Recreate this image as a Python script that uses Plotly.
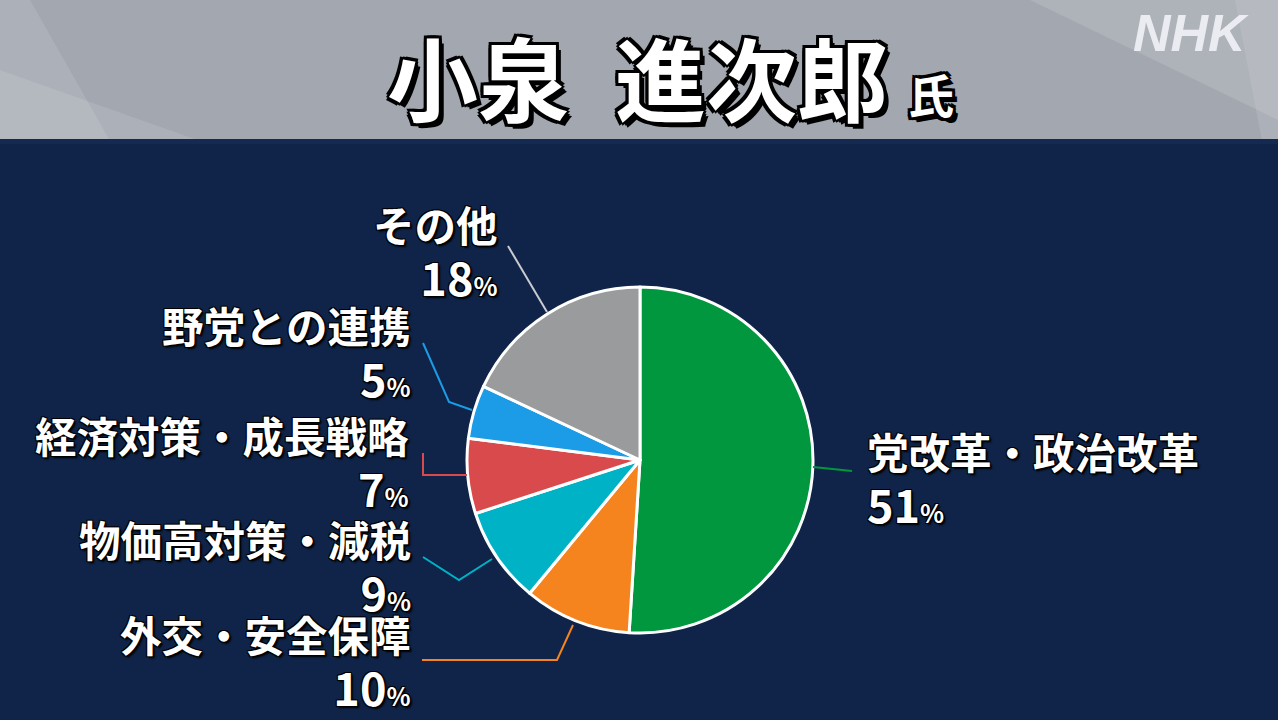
import plotly.graph_objects as go

W, H = 1278, 720

categories = ["党改革・政治改革", "外交・安全保障", "物価高対策・減税",
              "経済対策・成長戦略", "野党との連携", "その他"]
values = [51, 10, 9, 7, 5, 18]
colors = ["#00973f", "#f5841f", "#00b2c6", "#d84a4c", "#1c9be6", "#9a9b9d"]
title_name = ["小泉", "進次郎"]
title_suffix = "氏"

def px(x):
    return x / W

def py(y):
    return 1 - y / H

FONT = "Noto Sans CJK JP"
OUTLINE = "-1px -1px 0 #000, 1px -1px 0 #000, -1px 1px 0 #000, 1px 1px 0 #000, 2px 2px 2px #000"
TOUTLINE = ("-3px -3px 0 #000, 3px -3px 0 #000, -3px 3px 0 #000, 3px 3px 0 #000, "
            "0 -3px 0 #000, 0 3px 0 #000, -3px 0 0 #000, 3px 0 0 #000, 5px 5px 0 #000")

fig = go.Figure()

cx, cy, r = 640, 460, 173
fig.add_trace(go.Pie(
    labels=categories, values=values, sort=False, direction="clockwise", rotation=0,
    marker=dict(colors=colors, line=dict(color="#ffffff", width=3)),
    textinfo="none", hoverinfo="label+percent", showlegend=False,
    domain=dict(x=[px(cx - r), px(cx + r)], y=[py(cy + r), py(cy - r)]),
))

shapes = []
# header band
shapes.append(dict(type="rect", xref="paper", yref="paper", x0=0, x1=1, y0=py(141), y1=1,
                   fillcolor="#a3a8b0", line=dict(width=0), layer="below"))
# light streaks
shapes.append(dict(type="path", xref="paper", yref="paper",
                   path=f"M {px(0)} {py(0)} L {px(30)} {py(0)} L {px(110)} {py(141)} L {px(0)} {py(141)} Z",
                   fillcolor="rgba(255,255,255,0.10)", line=dict(width=0), layer="below"))
shapes.append(dict(type="path", xref="paper", yref="paper",
                   path=f"M {px(0)} {py(70)} L {px(200)} {py(141)} L {px(0)} {py(141)} Z",
                   fillcolor="rgba(255,255,255,0.10)", line=dict(width=0), layer="below"))
shapes.append(dict(type="path", xref="paper", yref="paper",
                   path=f"M {px(1030)} {py(0)} L {px(1278)} {py(0)} L {px(1278)} {py(120)} Z",
                   fillcolor="rgba(255,255,255,0.12)", line=dict(width=0), layer="below"))
shapes.append(dict(type="path", xref="paper", yref="paper",
                   path=f"M {px(1235)} {py(0)} L {px(1278)} {py(0)} L {px(1278)} {py(141)} L {px(1262)} {py(141)} Z",
                   fillcolor="rgba(255,255,255,0.10)", line=dict(width=0), layer="below"))
# dark separator
shapes.append(dict(type="rect", xref="paper", yref="paper", x0=0, x1=1, y0=py(144), y1=py(139),
                   fillcolor="#152a50", line=dict(width=0), layer="below"))

# leader lines (pixel layout)
leaders = [
    ([(813, 467), (852, 471)], colors[0]),
    ([(573, 625), (557, 660), (422, 660)], colors[1]),
    ([(492, 559), (459, 580), (423, 557)], colors[2]),
    ([(467, 475), (423, 475), (423, 453)], colors[3]),
    ([(472, 410), (449, 402), (423, 343)], colors[4]),
    ([(547, 312), (508, 246)], "#c9cbd0"),
]
for pts, col in leaders:
    path = "M " + " L ".join(f"{px(x)} {py(y)}" for x, y in pts)
    shapes.append(dict(type="path", xref="paper", yref="paper", path=path,
                       line=dict(color=col, width=2)))

annotations = []
# title
annotations.append(dict(text=f"<b>{title_name[0]}</b>", x=px(478), y=py(75), xref="paper", yref="paper",
                        showarrow=False, xanchor="center", yanchor="middle",
                        font=dict(family=FONT, size=91, color="#ffffff", shadow=TOUTLINE)))
annotations.append(dict(text=f"<b>{title_name[1]}</b>", x=px(751), y=py(75), xref="paper", yref="paper",
                        showarrow=False, xanchor="center", yanchor="middle",
                        font=dict(family=FONT, size=91, color="#ffffff", shadow=TOUTLINE)))
annotations.append(dict(text=f"<b>{title_suffix}</b>", x=px(931), y=py(93), xref="paper", yref="paper",
                        showarrow=False, xanchor="center", yanchor="middle",
                        font=dict(family=FONT, size=46, color="#ffffff", shadow=TOUTLINE)))
# NHK logo
annotations.append(dict(text="<b><i>NHK</i></b>", x=px(1191), y=py(33), xref="paper", yref="paper",
                        showarrow=False, xanchor="center", yanchor="middle", borderpad=0,
                        font=dict(family="Liberation Sans", size=52, color="rgba(245,246,250,0.85)")))

# labels: (x, y of two-line block centre, anchor)
label_pos = [
    (866, 478, "left"),
    (412, 661, "right"),
    (412, 566, "right"),
    (410, 462, "right"),
    (412, 352, "right"),
    (499, 251, "right"),
]
for cat, val, (lx, ly, anc) in zip(categories, values, label_pos):
    annotations.append(dict(
        text=f"<b>{cat}</b><br><b><span style='font-size:45px'>{val}</span><span style='font-size:25px'>%</span></b>",
        x=px(lx), y=py(ly), xref="paper", yref="paper", borderpad=0,
        showarrow=False, xanchor=anc, yanchor="middle", align=anc,
        font=dict(family=FONT, size=41.5, color="#ffffff", shadow=OUTLINE)))

fig.update_layout(
    width=W, height=H, margin=dict(l=0, r=0, t=0, b=0),
    paper_bgcolor="#0f2448", plot_bgcolor="#0f2448",
    shapes=shapes, annotations=annotations, showlegend=False,
)

fig.write_html("out.html", config={"displayModeBar": False},
               post_script="document.body.style.margin='0';document.body.style.background='#0f2448';")
